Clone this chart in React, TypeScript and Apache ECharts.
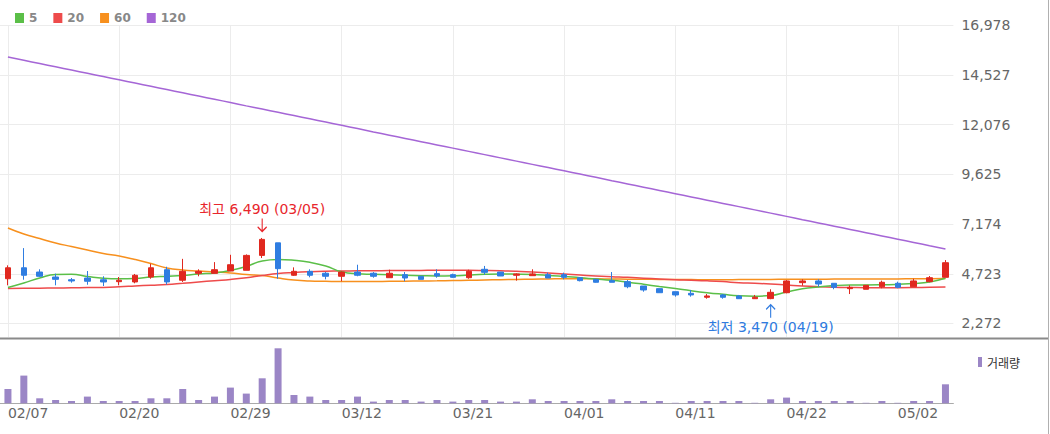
import React, { useEffect, useRef } from 'react';
import * as echarts from 'echarts';

// Trading days shown on the chart
const dates = [
  '02/07', '02/08', '02/13', '02/14', '02/15', '02/16', '02/19', '02/20', '02/21', '02/22',
  '02/23', '02/26', '02/27', '02/28', '02/29', '03/04', '03/05', '03/06', '03/07', '03/08',
  '03/11', '03/12', '03/13', '03/14', '03/15', '03/18', '03/19', '03/20', '03/21', '03/22',
  '03/25', '03/26', '03/27', '03/28', '03/29', '04/01', '04/02', '04/03', '04/04', '04/05',
  '04/08', '04/09', '04/11', '04/12', '04/15', '04/16', '04/17', '04/18', '04/19', '04/22',
  '04/23', '04/24', '04/25', '04/26', '04/29', '04/30', '05/02', '05/03', '05/07', '05/08',
];

const opens = [
  4480, 5020, 4810, 4565, 4430, 4515, 4430, 4335, 4320, 4565,
  4925, 4405, 4745, 4745, 4860, 4895, 5630, 6250, 4650, 4845,
  4750, 4600, 4810, 4750, 4530, 4680, 4600, 4730, 4680, 4530,
  4945, 4810, 4650, 4630, 4680, 4680, 4530, 4450, 4385, 4335,
  4120, 3990, 3840, 3760, 3565, 3680, 3630, 3495, 3500, 3790,
  4285, 4370, 4255, 3990, 3960, 4085, 4255, 4085, 4335, 4550,
];
const closes = [
  5020, 4650, 4600, 4450, 4370, 4355, 4320, 4405, 4650, 5020,
  4320, 4845, 4845, 4925, 5170, 5630, 6420, 4975, 4845, 4650,
  4600, 4810, 4650, 4600, 4750, 4515, 4450, 4615, 4550, 4845,
  4795, 4615, 4715, 4715, 4515, 4550, 4385, 4305, 4305, 4085,
  3925, 3790, 3680, 3680, 3630, 3565, 3495, 3565, 3810, 4370,
  4370, 4220, 4055, 4055, 4155, 4305, 4055, 4370, 4530, 5270,
];
const lows = [
  4155, 4430, 4565, 4155, 4285, 4185, 4120, 4155, 4255, 4480,
  4185, 4320, 4600, 4745, 4860, 4895, 5500, 4480, 4615, 4550,
  4450, 4355, 4600, 4530, 4530, 4355, 4450, 4530, 4530, 4480,
  4680, 4615, 4385, 4630, 4515, 4450, 4350, 4290, 4305, 4010,
  3840, 3790, 3595, 3595, 3495, 3495, 3480, 3480, 3470, 3760,
  4135, 4085, 3960, 3725, 3960, 4010, 4010, 4085, 4305, 4550,
];
const highs = [
  5140, 5990, 4945, 4730, 4515, 4860, 4600, 4565, 4715, 5220,
  5070, 5460, 4945, 5300, 5660, 5680, 6490, 6250, 5040, 4945,
  4810, 4845, 5170, 4810, 4925, 4810, 4600, 4945, 4730, 4925,
  5110, 4810, 4750, 4945, 4780, 4780, 4565, 4470, 4810, 4415,
  4120, 3990, 3840, 3925, 3725, 3725, 3680, 3680, 3960, 4415,
  4450, 4450, 4255, 4155, 4155, 4385, 4335, 4480, 4615, 5400,
];

// Moving averages
const ma5 = [
  4048, 4269, 4516, 4688, 4698, 4590, 4501, 4476, 4486, 4565,
  4600, 4639, 4713, 4762, 4886, 5083, 5354, 5428, 5389, 5290,
  5108, 4822, 4723, 4698, 4674, 4649, 4629, 4615, 4624, 4664,
  4698, 4713, 4703, 4684, 4644, 4595, 4526, 4467, 4403, 4309,
  4205, 4097, 3993, 3885, 3791, 3713, 3643, 3619, 3653, 3826,
  3983, 4072, 4141, 4171, 4171, 4181, 4205, 4240, 4319, 4501,
];
const ma20 = [
  3998, 4008, 4013, 4023, 4033, 4043, 4053, 4082, 4122, 4161,
  4195, 4255, 4319, 4383, 4442, 4526, 4639, 4738, 4787, 4822,
  4846, 4861, 4871, 4876, 4881, 4886, 4891, 4896, 4896, 4896,
  4886, 4871, 4846, 4812, 4762, 4713, 4664, 4615, 4580, 4550,
  4506, 4467, 4432, 4407, 4378, 4338, 4284, 4255, 4220, 4171,
  4122, 4087, 4062, 4048, 4038, 4038, 4038, 4043, 4057, 4072,
];
const ma60 = [
  6981, 6685, 6463, 6241, 6069, 5896, 5724, 5601, 5428, 5231,
  5009, 4910, 4861, 4812, 4762, 4688, 4639, 4516, 4417, 4368,
  4353, 4343, 4343, 4343, 4353, 4358, 4368, 4378, 4393, 4403,
  4417, 4432, 4447, 4457, 4467, 4481, 4481, 4476, 4467, 4457,
  4452, 4447, 4442, 4437, 4432, 4432, 4437, 4442, 4447, 4452,
  4457, 4457, 4462, 4462, 4467, 4467, 4472, 4476, 4481, 4491,
];
const ma120 = [
  15411, 15250, 15090, 14930, 14770, 14610, 14450, 14290, 14130, 13970,
  13810, 13650, 13490, 13330, 13170, 13005, 12845, 12685, 12525, 12365,
  12205, 12045, 11885, 11720, 11560, 11400, 11240, 11080, 10920, 10760,
  10600, 10440, 10280, 10120, 9960, 9800, 9640, 9480, 9315, 9155,
  8995, 8835, 8675, 8515, 8355, 8195, 8035, 7875, 7715, 7555,
  7390, 7230, 7070, 6910, 6750, 6590, 6430, 6270, 6110, 5946,
];

// Daily volume (thousand shares)
const volumes = [
  286, 554, 100, 66, 46, 134, 46, 46, 46, 100,
  100, 286, 66, 134, 314, 194, 500, 1100, 166, 134,
  66, 66, 134, 34, 66, 66, 34, 66, 34, 66,
  66, 34, 34, 80, 46, 46, 46, 46, 80, 46,
  46, 46, 10, 46, 46, 46, 46, 10, 80, 114,
  46, 46, 46, 46, 10, 46, 10, 46, 46, 380,
];

// Price axis tick labels
const priceTicks = [2272, 4723, 7174, 9625, 12076, 14527, 16978];

const FONT = "'DejaVu Sans', 'Noto Sans CJK KR', sans-serif";
const UP = '#e0281f';
const DOWN = '#2f7de1';
const GRID_COLOR = '#ececec';

const ARROW_DOWN = 'path://M5,0L5,14M1,9L5,14L9,9';
const ARROW_UP = 'path://M5,14L5,0M1,5L5,0L9,5';

export default function App() {
  const ref = useRef<HTMLDivElement>(null);

  useEffect(() => {
    if (!ref.current) return;
    const chart = echarts.init(ref.current, null, { renderer: 'svg' });

    const fmt = (v: number) => v.toLocaleString('en-US');
    const candles = dates.map((_, i) => [opens[i], closes[i], lows[i], highs[i]]);
    const maxHigh = Math.max(...highs);
    const hiIdx = highs.indexOf(maxHigh);
    const minLow = Math.min(...lows);
    const loIdx = lows.indexOf(minLow);
    const labeledDates = dates.filter((_, i) => i % 7 === 0);

    const maLine = (name: string, data: number[], color: string) => ({
      name,
      type: 'line',
      xAxisIndex: 0,
      yAxisIndex: 0,
      data,
      smooth: true,
      symbol: 'none',
      silent: true,
      z: 2,
      itemStyle: { color },
      lineStyle: { color, width: 1.5 },
    });

    chart.setOption({
      animation: false,
      backgroundColor: '#fff',
      textStyle: { fontFamily: FONT },
      legend: [
        {
          data: ['5', '20', '60', '120'],
          left: 10,
          top: 7,
          icon: 'rect',
          itemWidth: 9,
          itemHeight: 10,
          itemGap: 16,
          selectedMode: false,
          textStyle: { fontSize: 12, fontWeight: 'bold', color: '#888', fontFamily: FONT },
        },
        {
          data: ['거래량'],
          left: 973,
          top: 351,
          icon: 'rect',
          itemWidth: 4,
          itemHeight: 10,
          selectedMode: false,
          textStyle: { fontSize: 12, color: '#333', fontFamily: "'Noto Sans CJK KR', sans-serif" },
        },
      ],
      grid: [
        { left: 0, top: 25.3, width: 953.4, height: 311.7 },
        { left: 0, top: 348.3, width: 953.4, height: 55 },
      ],
      xAxis: [
        { type: 'category', gridIndex: 0, data: dates, boundaryGap: true, show: false },
        {
          type: 'category',
          gridIndex: 1,
          data: dates,
          boundaryGap: true,
          axisLine: { lineStyle: { color: '#aaa' } },
          axisTick: { alignWithLabel: true, interval: 6, length: 5, lineStyle: { color: '#999' } },
          axisLabel: { interval: 6, align: 'left', color: '#666', fontSize: 14, margin: 3, fontFamily: FONT },
          splitLine: { show: false },
        },
      ],
      yAxis: [
        {
          type: 'value',
          gridIndex: 0,
          position: 'right',
          min: 1606,
          max: 16978,
          axisLine: { show: false },
          axisTick: { show: false, customValues: priceTicks },
          axisLabel: {
            customValues: priceTicks,
            formatter: (v: number) => fmt(v),
            color: '#666',
            fontSize: 14,
            margin: 8,
            fontFamily: FONT,
          },
          splitLine: { show: true, lineStyle: { color: GRID_COLOR } },
        },
        { type: 'value', gridIndex: 1, min: 0, max: 'dataMax', show: false },
      ],
      series: [
        maLine('120', ma120, '#a566d6'),
        maLine('60', ma60, '#f7901e'),
        maLine('20', ma20, '#ee4b4b'),
        maLine('5', ma5, '#5bbf48'),
        {
          name: 'price',
          type: 'candlestick',
          xAxisIndex: 0,
          yAxisIndex: 0,
          data: candles,
          barWidth: 6,
          z: 3,
          silent: true,
          itemStyle: { color: UP, color0: DOWN, borderColor: UP, borderColor0: DOWN, borderWidth: 1 },
          markLine: {
            silent: true,
            z: 0,
            symbol: ['none', 'none'],
            label: { show: false },
            lineStyle: { color: GRID_COLOR, type: 'solid', width: 1 },
            data: labeledDates.map((d) => ({ xAxis: d })),
          },
          markPoint: {
            silent: true,
            data: [
              {
                coord: [dates[hiIdx], maxHigh],
                symbol: ARROW_DOWN,
                symbolSize: [9, 13],
                symbolOffset: [0, -13],
                itemStyle: { color: 'transparent', borderColor: '#e8262c', borderWidth: 1.3 },
                label: {
                  show: true,
                  position: 'top',
                  distance: 2,
                  formatter: `최고 ${fmt(maxHigh)} (${dates[hiIdx]})`,
                  color: '#e8262c',
                  fontSize: 14,
                  fontFamily: FONT,
                },
              },
              {
                coord: [dates[loIdx], minLow],
                symbol: ARROW_UP,
                symbolSize: [9, 13],
                symbolOffset: [0, 12],
                itemStyle: { color: 'transparent', borderColor: '#2f7be0', borderWidth: 1.3 },
                label: {
                  show: true,
                  position: 'bottom',
                  distance: 2,
                  formatter: `최저 ${fmt(minLow)} (${dates[loIdx]})`,
                  color: '#2f7be0',
                  fontSize: 14,
                  fontFamily: FONT,
                },
              },
            ],
          },
        },
        {
          name: '거래량',
          type: 'bar',
          xAxisIndex: 1,
          yAxisIndex: 1,
          data: volumes,
          barWidth: 7,
          silent: true,
          itemStyle: { color: '#9b86c6' },
        },
      ],
      graphic: [
        { type: 'line', silent: true, shape: { x1: 0, y1: 338.5, x2: 1048, y2: 338.5 }, style: { stroke: '#8a8a8a', lineWidth: 2 } },
        { type: 'line', silent: true, shape: { x1: 1048.5, y1: 0, x2: 1048.5, y2: 434 }, style: { stroke: '#b0b0b0', lineWidth: 1 } },
      ],
    });

    return () => chart.dispose();
  }, []);

  return (
    <div
      ref={ref}
      style={{ position: 'fixed', left: 0, top: 0, width: 1050, height: 434, background: '#fff' }}
    />
  );
}
